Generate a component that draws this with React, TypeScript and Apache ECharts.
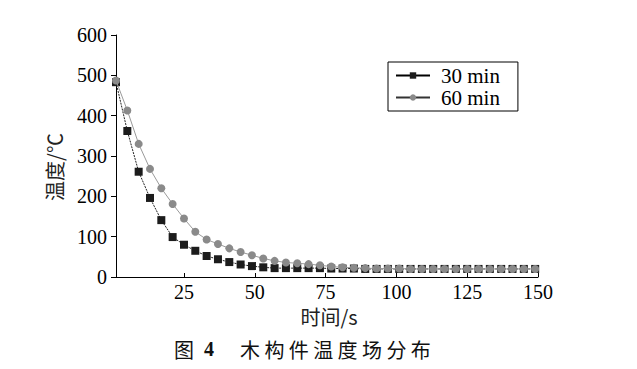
import React, { useEffect, useRef } from "react";
import * as echarts from "echarts";

const times: number[] = [
  1, 5, 9, 13, 17, 21, 25, 29, 33, 37, 41, 45, 49, 53, 57, 61, 65, 69, 73, 77,
  81, 85, 89, 93, 97, 101, 105, 109, 113, 117, 121, 125, 129, 133, 137, 141, 145, 149,
];
const temp30: number[] = [
  483, 362, 261, 196, 141, 99, 80, 65, 52, 44, 37, 31, 27, 24, 22, 22, 22, 22, 22, 21,
  21, 21, 20, 20, 20, 20, 20, 20, 20, 20, 20, 20, 20, 20, 20, 20, 20, 20,
];
const temp60: number[] = [
  487, 413, 330, 268, 220, 181, 145, 112, 93, 82, 71, 62, 54, 46, 40, 36, 34, 32, 29, 26,
  24, 23, 22, 21, 21, 21, 20, 20, 20, 20, 20, 20, 20, 20, 20, 20, 20, 20,
];
const xTicks: number[] = [25, 50, 75, 100, 125, 150];
const seriesNames: string[] = ["30 min", "60 min"];
const captionChars: string[] = ["木", "构", "件", "温", "度", "场", "分", "布"];

const SERIF = "Liberation Serif";
const CJK = "Noto Sans CJK SC";

export default function App() {
  const ref = useRef<HTMLDivElement>(null);
  useEffect(() => {
    document.body.style.margin = "0";
    if (!ref.current) return;
    const chart = echarts.init(ref.current, undefined, { renderer: "svg" });
    const pairs = (vals: number[]) => times.map((t, i) => [t, vals[i]]);
    chart.setOption({
      animation: false,
      backgroundColor: "#fff",
      grid: { left: 116, right: 99, top: 35, bottom: 92, containLabel: false },
      xAxis: {
        type: "value",
        min: 1,
        max: 150,
        axisLine: { show: true, lineStyle: { color: "#000", width: 1 } },
        axisTick: {
          show: true,
          inside: true,
          length: 4,
          customValues: xTicks,
          lineStyle: { color: "#000" },
        },
        axisLabel: {
          customValues: xTicks,
          color: "#000",
          fontSize: 20,
          lineHeight: 18,
          fontFamily: SERIF,
          margin: 6,
        },
        splitLine: { show: false },
      },
      yAxis: {
        type: "value",
        min: 0,
        max: 600,
        interval: 100,
        axisLine: { show: true, lineStyle: { color: "#000", width: 1 } },
        axisTick: { show: true, inside: false, length: 5, lineStyle: { color: "#000" } },
        axisLabel: { color: "#000", fontSize: 20, fontFamily: SERIF, margin: 9 },
        splitLine: { show: false },
      },
      legend: {
        orient: "vertical",
        left: 388,
        top: 62,
        padding: [3, 18, 3, 7],
        itemGap: 1,
        itemWidth: 34,
        itemHeight: 8,
        borderColor: "#000",
        borderWidth: 1,
        borderRadius: 0,
        textStyle: {
          color: "#000",
          fontSize: 21,
          lineHeight: 18,
          fontFamily: SERIF,
          padding: [0, 0, 0, 6],
        },
        data: [
          { name: seriesNames[0], lineStyle: { type: "solid", color: "#000" } },
          { name: seriesNames[1], lineStyle: { type: "solid", color: "#333" } },
        ],
      },
      series: [
        {
          name: seriesNames[0],
          type: "line",
          data: pairs(temp30),
          symbol: "rect",
          symbolSize: 8,
          itemStyle: { color: "#1c1c1c" },
          lineStyle: { color: "#222", width: 1, type: [2, 1] },
          z: 2,
        },
        {
          name: seriesNames[1],
          type: "line",
          data: pairs(temp60),
          symbol: "circle",
          symbolSize: 8,
          itemStyle: { color: "#8a8a8a" },
          lineStyle: { color: "#9a9a9a", width: 1 },
          z: 3,
        },
      ],
      graphic: [
        {
          type: "text",
          x: 54,
          y: 167,
          rotation: Math.PI / 2,
          style: {
            text: "温度/℃",
            fontSize: 20,
            fontFamily: CJK,
            fill: "#222",
            align: "center",
            verticalAlign: "middle",
          },
        },
        {
          type: "text",
          x: 329,
          y: 316,
          style: {
            text: "时间/s",
            fontSize: 20,
            lineHeight: 20,
            fontFamily: CJK,
            fill: "#222",
            align: "center",
            verticalAlign: "middle",
          },
        },
        {
          type: "text",
          x: 174,
          y: 349,
          style: {
            text: "图",
            fontSize: 20,
            fontFamily: CJK,
            fill: "#111",
            align: "left",
            verticalAlign: "middle",
          },
        },
        {
          type: "text",
          x: 204,
          y: 349,
          style: {
            text: "4",
            fontSize: 20,
            fontWeight: "bold",
            fontFamily: SERIF,
            fill: "#111",
            align: "left",
            verticalAlign: "middle",
          },
        },
        ...captionChars.map((c, i) => ({
          type: "text",
          x: 240 + i * 24.4,
          y: 349,
          style: {
            text: c,
            fontSize: 20,
            fontFamily: CJK,
            fill: "#111",
            align: "left",
            verticalAlign: "middle",
          },
        })),
      ],
    });
    return () => chart.dispose();
  }, []);
  return <div ref={ref} style={{ width: 637, height: 369 }} />;
}
